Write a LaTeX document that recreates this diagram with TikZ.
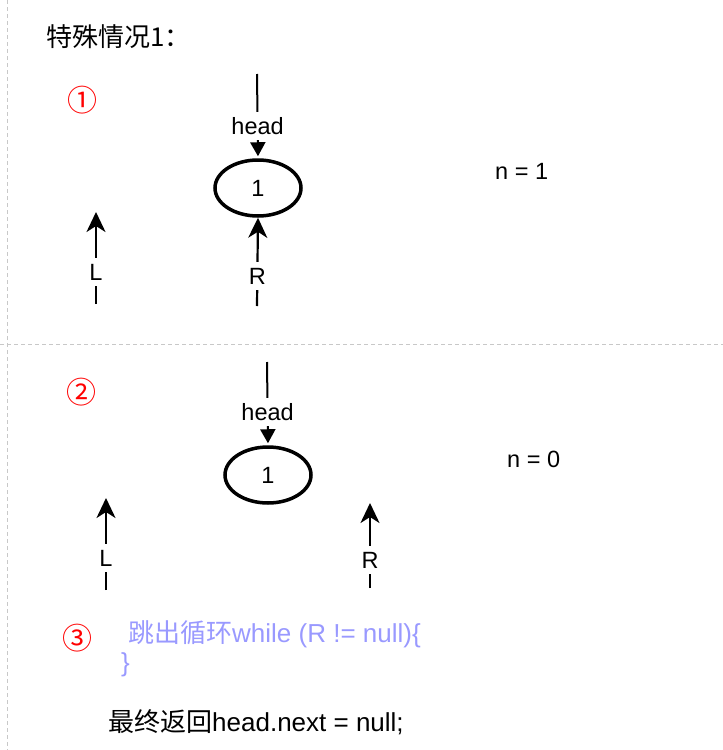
\documentclass[tikz,border=0pt]{standalone}
\usepackage{fontspec}
\setmainfont{Liberation Sans}
\newfontfamily\cjk{Noto Sans CJK SC}
\usetikzlibrary{arrows.meta,shapes.geometric}
\definecolor{lav}{RGB}{153,153,255}
\definecolor{sepgray}{RGB}{200,200,200}
\begin{document}
\begin{tikzpicture}[x=1pt,y=-1pt,
  sepline/.style={sepgray, line width=1pt, dash pattern=on 4pt off 3pt},
  listnode/.style={draw, ellipse, line width=3.5pt, minimum width=86pt, minimum height=56pt, inner sep=0pt, font=\fontsize{23.5}{24}\selectfont},
  lab/.style={fill=white, inner xsep=2pt, inner ysep=5.5pt, text height=17pt, text depth=0pt, font=\fontsize{23.5}{24}\selectfont},
  headptr/.style={line width=2pt, -{Triangle[width=15pt,length=14pt]}, shorten >=2pt},
  upptr/.style={line width=2.2pt, -{Stealth[width=19pt,length=20pt,inset=6pt]}},
  txt/.style={anchor=base west, inner sep=0pt},
  circnum/.style={text=red, inner sep=0pt, font=\fontsize{30}{30}\selectfont\cjk},
]
\useasboundingbox (0,0) rectangle (723,750);
% separators
\coordinate (vt) at (7,0);
\coordinate (vb) at (7,750);
\coordinate (hl) at (0,344);
\coordinate (hr) at (723,344);
\draw[sepline] (vt) -- (vb);
\draw[sepline] (hl) -- (hr);

% title
\node[txt, font=\fontsize{26}{26}\selectfont\cjk] (title) at (46,46) {特殊情况1：};

% ---- case 1
\node[circnum] (c1) at (82,100) {①};
\node[listnode] (e1) at (258,188) {1};
\coordinate (h1top) at (257,74);
\draw[headptr] (h1top) -- node[lab, pos=0.62] (h1lab) {head} (e1.north);
\coordinate (l1b) at (96,304);
\coordinate (l1t) at (96,212);
\draw[upptr] (l1b) -- node[lab, pos=0.35] (l1lab) {L} (l1t);
\coordinate (r1b) at (257,306);
\draw[upptr] (r1b) -- node[lab, pos=0.34] (r1lab) {R} (e1.south);
\node[txt, font=\fontsize{23.5}{24}\selectfont] (n1) at (495,179) {n = 1};

% ---- case 2
\node[circnum] (c2) at (81,392) {②};
\node[listnode] (e2) at (268,475) {1};
\coordinate (h2top) at (267,362);
\draw[headptr] (h2top) -- node[lab, pos=0.6] (h2lab) {head} (e2.north);
\coordinate (l2b) at (106,590);
\coordinate (l2t) at (106,498);
\draw[upptr] (l2b) -- node[lab, pos=0.35] (l2lab) {L} (l2t);
\coordinate (r2b) at (370,588);
\coordinate (r2t) at (370,503);
\draw[upptr] (r2b) -- node[lab, pos=0.33] (r2lab) {R} (r2t);
\node[txt, font=\fontsize{23.5}{24}\selectfont] (n0) at (507,467) {n = 0};

% ---- case 3
\node[circnum] (c3) at (77,638) {③};
\node[txt, text=lav, font=\fontsize{26}{26}\selectfont] (loop1) at (128,642) {{\cjk 跳出循环}while (R != null)\{};
\node[txt, text=lav, font=\fontsize{26}{26}\selectfont] (loop2) at (121,671) {\}};
\node[txt, font=\fontsize{26}{26}\selectfont] (ret) at (108,731) {{\cjk 最终返回}head.next = null;};
\end{tikzpicture}
\end{document}
